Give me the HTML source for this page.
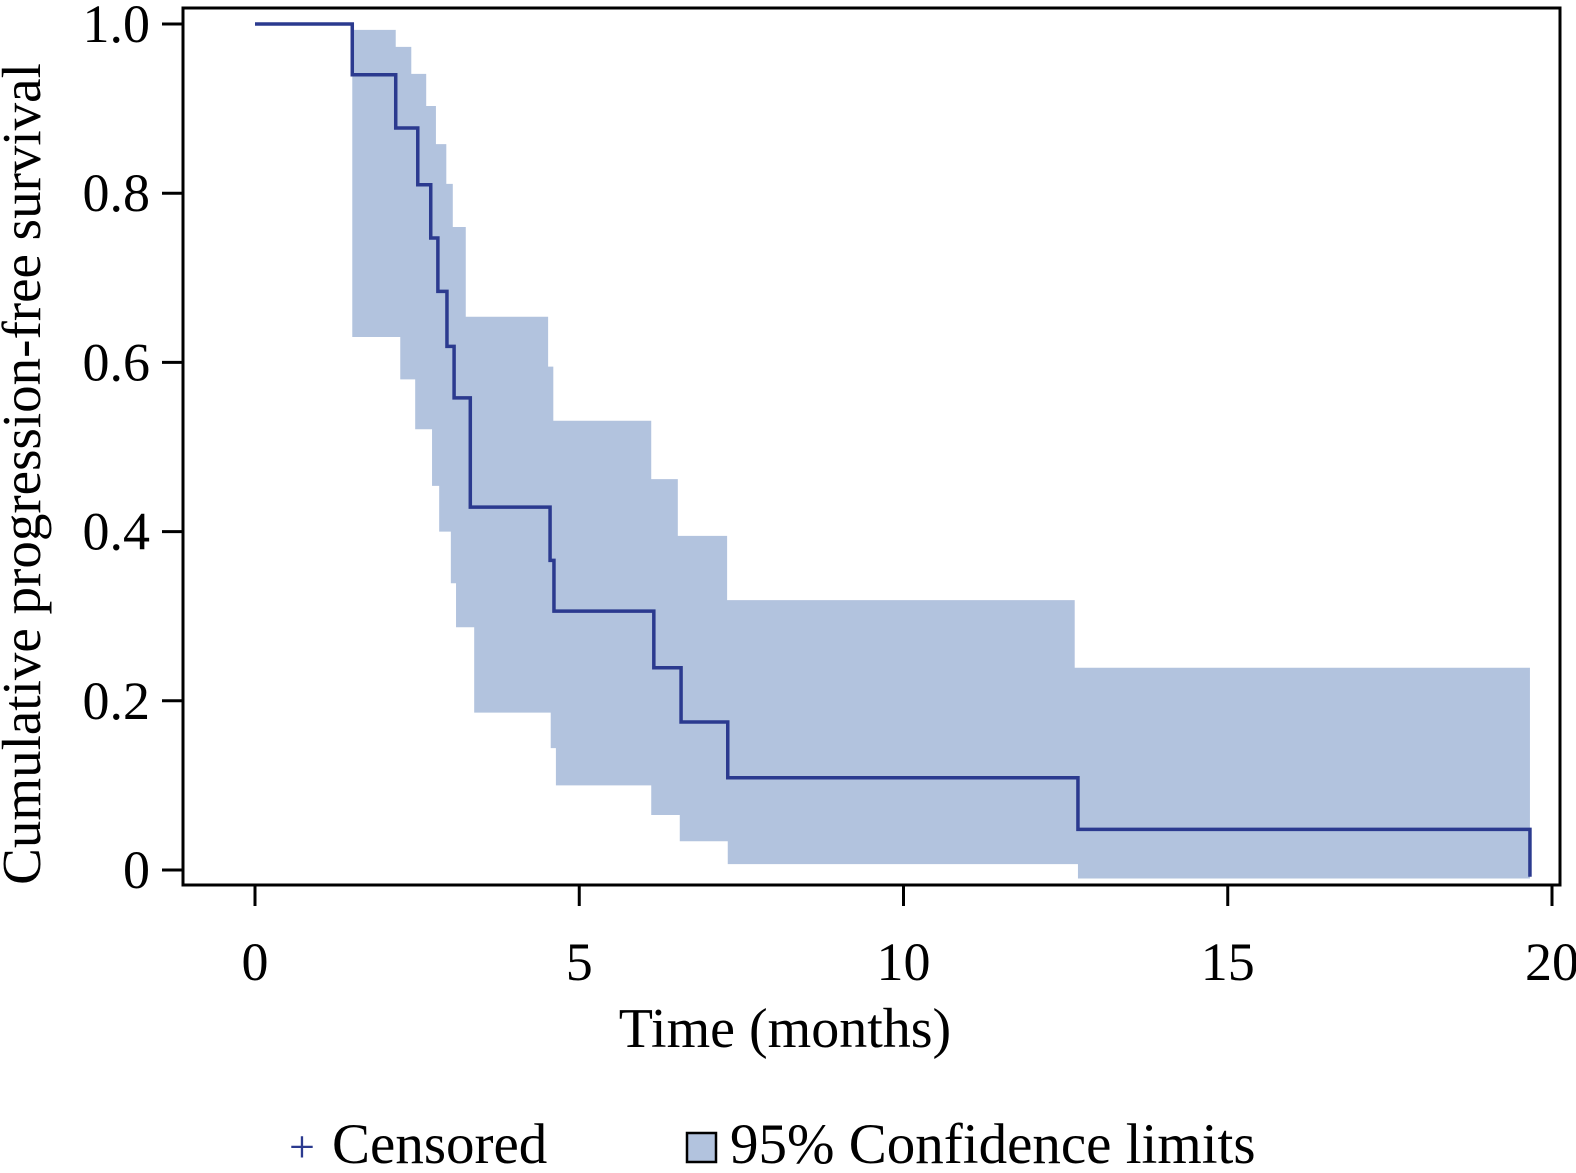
<!DOCTYPE html>
<html><head><meta charset="utf-8"><style>
html,body{margin:0;padding:0;background:#fff;}
svg{display:block;font-family:"Liberation Serif",serif;}
</style></head><body>
<svg id="chart" width="1576" height="1173" viewBox="0 0 1576 1173" xmlns="http://www.w3.org/2000/svg">
<g id="band"></g>
<g id="curve"></g>
<rect x="183" y="8" width="1377" height="877" fill="none" stroke="#000" stroke-width="3"/>
<g id="xticks"></g>
<g id="yticks"></g>
<text x="785" y="1047" font-size="56" text-anchor="middle">Time (months)</text>
<text transform="translate(40,474) rotate(-90)" font-size="55" text-anchor="middle">Cumulative progression-free survival</text>
<g>
<text x="302" y="1162" font-size="46" fill="#2b3a8f" text-anchor="middle">+</text>
<text x="332" y="1163" font-size="57">Censored</text>
<rect x="687" y="1133" width="29" height="29" fill="#b2c3de" stroke="#000" stroke-width="2.5"/>
<text x="730" y="1163" font-size="57">95% Confidence limits</text>
</g>
</svg>
<script>
const survTimes=[0,1.5,2.17,2.51,2.71,2.82,2.96,3.07,3.32,4.55,4.61,6.15,6.57,7.29,12.69];
const survVals=[1,0.94,0.877,0.81,0.747,0.684,0.619,0.558,0.429,0.366,0.306,0.239,0.175,0.109,0.048];
const lastTime=19.66;
const lastVal=-0.008;
const upperTimes=[1.5,2.17,2.41,2.64,2.79,2.95,3.05,3.25,4.52,4.6,6.11,6.52,7.28,12.64];
const upperVals=[0.993,0.973,0.941,0.903,0.858,0.811,0.76,0.654,0.595,0.531,0.462,0.395,0.319,0.239];
const lowerTimes=[1.5,2.24,2.47,2.73,2.84,3.02,3.1,3.38,4.56,4.64,6.11,6.55,7.29,12.69];
const lowerVals=[0.63,0.58,0.521,0.454,0.4,0.339,0.287,0.186,0.144,0.1,0.065,0.034,0.007,-0.01];
const xTicks=[0,5,10,15,20];
const yTicks=[0,0.2,0.4,0.6,0.8,1.0];
const yTickLabels=["0","0.2","0.4","0.6","0.8","1.0"];
const NS="http://www.w3.org/2000/svg";
const X=t=>255+t*64.85;
const Y=v=>870-v*846;
function mk(tag,attrs,parent){const e=document.createElementNS(NS,tag);for(const k in attrs)e.setAttribute(k,attrs[k]);parent.appendChild(e);return e;}
function stepPts(times,vals,end){const p=[];for(let i=0;i<times.length;i++){const t1=i+1<times.length?times[i+1]:end;p.push([X(times[i]),Y(vals[i])],[X(t1),Y(vals[i])]);}return p;}
const up=stepPts(upperTimes,upperVals,lastTime);
const lo=stepPts(lowerTimes,lowerVals,lastTime).reverse();
const band=mk('polygon',{points:up.concat(lo).map(p=>p.join(',')).join(' '),fill:'#b2c3de'},document.getElementById('band'));


let d='M'+X(survTimes[0])+','+Y(survVals[0]);
for(let i=1;i<survTimes.length;i++){d+=' H'+X(survTimes[i])+' V'+Y(survVals[i]);}
d+=' H'+X(lastTime)+' V'+Y(lastVal);
const line=mk('path',{d:d,fill:'none',stroke:'#2b3a8f','stroke-width':3.5},document.getElementById('curve'));


const xg=document.getElementById('xticks');
xTicks.forEach(t=>{
 const l=mk('line',{x1:X(t),x2:X(t),y1:885,y2:906,stroke:'#000','stroke-width':3},xg);
 
 
 const tx=mk('text',{x:X(t),y:980,'font-size':54,'text-anchor':'middle'},xg);
 tx.textContent=String(t);
 
 
});
const yg=document.getElementById('yticks');
yTicks.forEach((v,i)=>{
 const l=mk('line',{x1:162,x2:183,y1:Y(v),y2:Y(v),stroke:'#000','stroke-width':3},yg);
 
 
 const tx=mk('text',{x:150,y:Y(v)+18,'font-size':54,'text-anchor':'end'},yg);
 tx.textContent=yTickLabels[i];
 
 
});
</script>
</body></html>
